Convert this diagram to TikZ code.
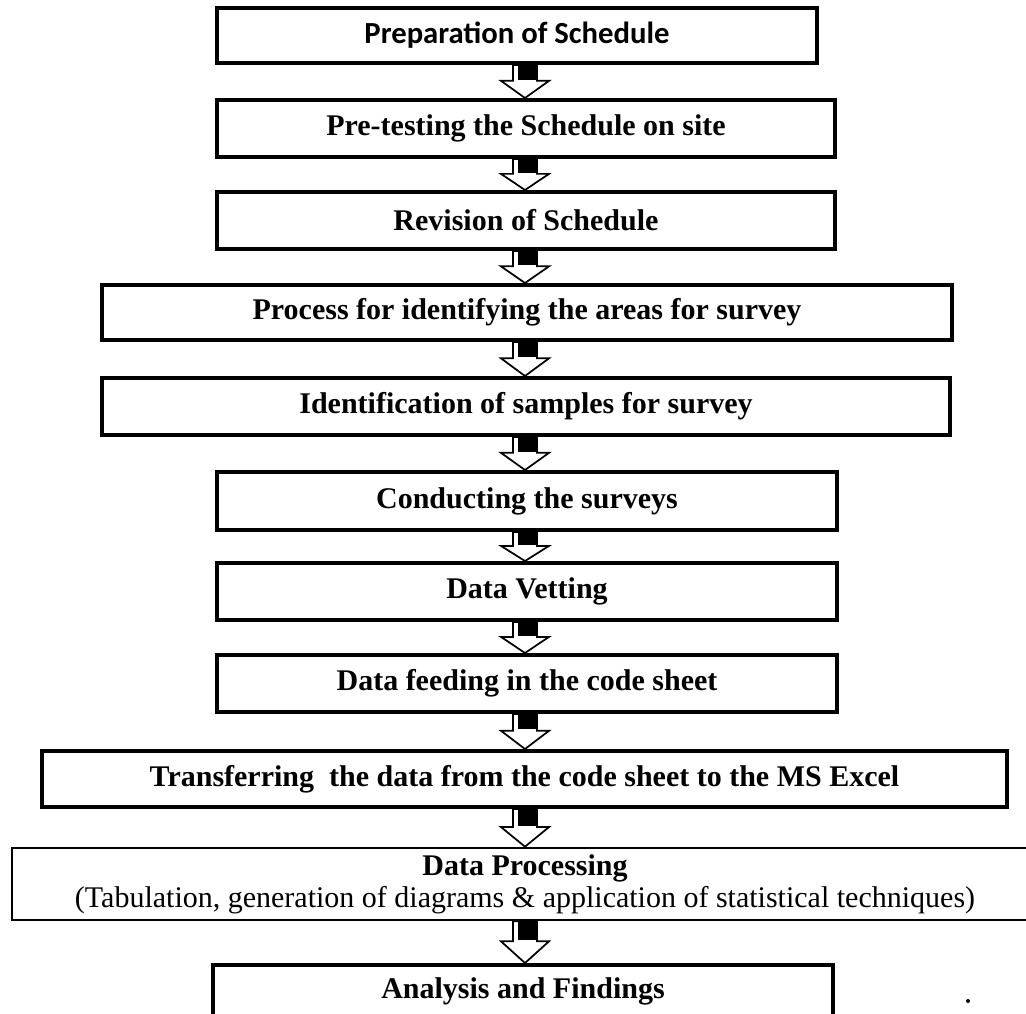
\documentclass[tikz,border=0pt]{standalone}
\usepackage{fontspec}
\setmainfont{Liberation Serif}
\newfontfamily\calfont{Carlito}
\usetikzlibrary{calc}
\newcommand{\blockarr}[2]{%
  \draw[arrowline] let \p1=(#1.south), \p2=(#2.north), \p3=(axis), \n1={0.52*\y1+0.48*\y2} in
    (\x3-9pt,\y1) -- (\x3+9pt,\y1) -- (\x3+9pt,\n1) -- (\x3+18pt,\n1) -- (\x3,\y2)
    -- (\x3-18pt,\n1) -- (\x3-9pt,\n1) -- cycle;
  \fill let \p1=(#1.south), \p2=(#2.north), \p3=(axis), \n1={0.52*\y1+0.48*\y2} in
    (\x3-5.5pt,\y1) rectangle (\x3+9pt,\n1+1pt);
}
\begin{document}
\begin{tikzpicture}[x=0.75pt,y=-0.75pt,
  box/.style={draw, line width=3pt, inner sep=0pt,
    font=\fontsize{22.5}{26}\selectfont\bfseries},
  arrowline/.style={draw, line width=1.3pt, fill=white, line join=miter}]
\useasboundingbox (0,0) rectangle (1026,1014);
\clip (0,0) rectangle (1026,1014);
\coordinate (axis) at (525,0);
\node[box, minimum width=450pt, minimum height=41.25pt,
  font=\calfont\fontsize{23}{26}\selectfont\bfseries] (A) at (517,35.5) {Preparation of Schedule};
\node[box, minimum width=463.5pt, minimum height=42.75pt] (B) at (526,128.5) {Pre-testing the Schedule on site};
\node[box, minimum width=463.5pt, minimum height=42.75pt] (C) at (526,220.5) {Revision of Schedule};
\node[box, minimum width=637.5pt, minimum height=41.25pt] (D) at (527,312.5) {Process for identifying the areas for survey};
\node[box, minimum width=636pt, minimum height=42.75pt] (E) at (526,406.5) {Identification of samples for survey};
\node[box, minimum width=465pt, minimum height=43.5pt] (F) at (527,501) {Conducting the surveys};
\node[box, minimum width=465pt, minimum height=42.75pt] (G) at (527,591.5) {Data Vetting};
\node[box, minimum width=465pt, minimum height=42.75pt] (H) at (527,683.5) {Data feeding in the code sheet};
\node[box, minimum width=723.75pt, minimum height=42pt] (I) at (524.5,779) {Transferring\ \ the data from the code sheet to the MS Excel};
\node[box, line width=2pt, minimum width=769.5pt, minimum height=54pt, align=center] (J) at (525,884)
  {Data Processing\\[-2pt]{\mdseries(Tabulation, generation of diagrams \& application of statistical techniques)}};
\node[box, minimum width=465pt, minimum height=39pt] (K) at (523,991) {Analysis and Findings};
\blockarr{A}{B}
\blockarr{B}{C}
\blockarr{C}{D}
\blockarr{D}{E}
\blockarr{E}{F}
\blockarr{F}{G}
\blockarr{G}{H}
\blockarr{H}{I}
\blockarr{I}{J}
\blockarr{J}{K}
\fill (968,1001) circle (1.5pt);
\end{tikzpicture}
\end{document}
